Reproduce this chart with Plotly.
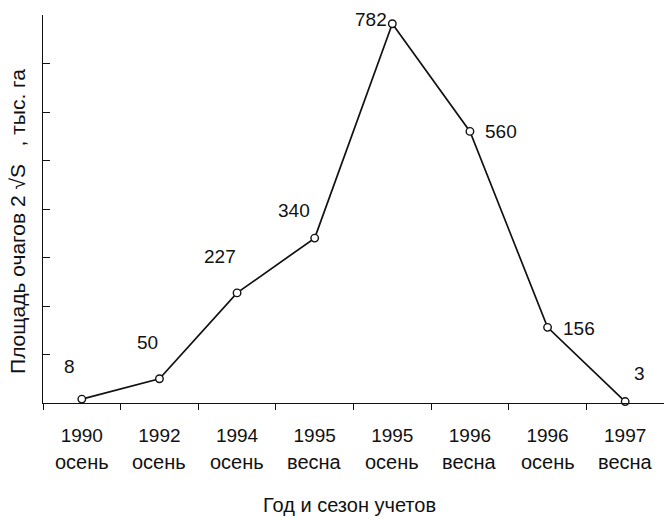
import plotly.graph_objects as go

# Survey periods: year and season of each count
years = ["1990", "1992", "1994", "1995", "1995", "1996", "1996", "1997"]
seasons = ["осень", "осень", "осень", "весна", "осень", "весна", "осень", "весна"]
# Area of outbreak foci, thousand ha
area = [8, 50, 227, 340, 782, 560, 156, 3]

# Pixel offsets of each value label relative to its marker (dx right, dy up)
label_dx = [-12, -12, -17, -21, -21, 31, 31, 14]
label_dy = [33, 36, 36, 28, 4, 0, -1, 28]

categories = [f"{y} {s}" for y, s in zip(years, seasons)]

FONT = "Liberation Sans, Arial, sans-serif"
INK = "#111111"

fig = go.Figure()
fig.add_trace(go.Scatter(
    x=categories,
    y=area,
    mode="lines+markers",
    line=dict(color=INK, width=1.7),
    marker=dict(symbol="circle", size=7.5, color="white",
                line=dict(color=INK, width=1.4)),
    cliponaxis=False,
    showlegend=False,
))

annotations = []
for c, v, dx, dy in zip(categories, area, label_dx, label_dy):
    annotations.append(dict(
        x=c, y=v, xref="x", yref="y", text=str(v), showarrow=False,
        xshift=dx, yshift=dy, xanchor="center", yanchor="middle",
        font=dict(family=FONT, size=19, color=INK),
    ))
for c, s in zip(categories, seasons):
    annotations.append(dict(
        x=c, y=-0.153, xref="x", yref="paper", text=s, showarrow=False,
        xanchor="center", yanchor="middle",
        font=dict(family=FONT, size=20, color=INK),
    ))
annotations.append(dict(
    x=0.494, y=-0.264, xref="paper", yref="paper",
    text="Год и сезон учетов", showarrow=False,
    xanchor="center", yanchor="middle",
    font=dict(family=FONT, size=20, color=INK),
))
annotations.append(dict(
    x=-0.040, y=0.467, xref="paper", yref="paper",
    text="Площадь очагов 2 √S   , тыс. га", showarrow=False, textangle=-90,
    xanchor="center", yanchor="middle",
    font=dict(family=FONT, size=21, color=INK),
))

fig.update_layout(
    width=664, height=519,
    margin=dict(l=43, r=0, t=15, b=115.5),
    paper_bgcolor="white", plot_bgcolor="white",
    annotations=annotations,
    xaxis=dict(
        type="category", categoryorder="array", categoryarray=categories,
        range=[-0.5, 7.5], tickson="boundaries",
        tickvals=categories, ticktext=years,
        ticks="outside", ticklen=6, tickwidth=1.2, tickcolor=INK,
        ticklabelstandoff=15,
        showline=True, linecolor=INK, linewidth=1.4,
        showgrid=False, zeroline=False,
        tickfont=dict(family=FONT, size=19, color=INK),
    ),
    yaxis=dict(
        range=[0, 800], tickvals=list(range(0, 801, 100)), showticklabels=False,
        ticks="inside", ticklen=7, tickwidth=1.2, tickcolor=INK,
        showline=True, linecolor=INK, linewidth=1.4,
        showgrid=False, zeroline=False,
    ),
)

fig.write_html("out.html")
